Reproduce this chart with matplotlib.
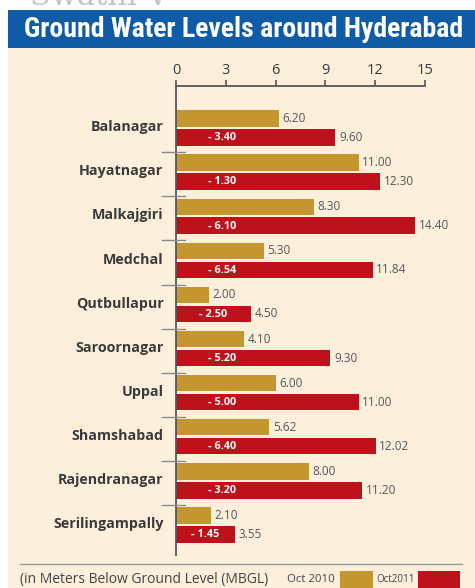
import matplotlib.pyplot as plt
import matplotlib.transforms as mtransforms
from matplotlib.patches import Rectangle
import numpy as np

# data (metres below ground level)
areas = ["Balanagar", "Hayatnagar", "Malkajgiri", "Medchal", "Qutbullapur",
         "Saroornagar", "Uppal", "Shamshabad", "Rajendranagar", "Serilingampally"]
oct2010 = [6.20, 11.00, 8.30, 5.30, 2.00, 4.10, 6.00, 5.62, 8.00, 2.10]
oct2011 = [9.60, 12.30, 14.40, 11.84, 4.50, 9.30, 11.00, 12.02, 11.20, 3.55]
change = [-3.40, -1.30, -6.10, -6.54, -2.50, -5.20, -5.00, -6.40, -3.20, -1.45]
xticks = [0, 3, 6, 9, 12, 15]

gold = '#C4962F'
red = '#BF111B'
cream = '#FCF0DD'
blue = '#0F5BA6'
txt = '#3a3a3a'
W, H = 475, 588

plt.rcParams['font.family'] = ['Open Sans', 'DejaVu Sans']

fig = plt.figure(figsize=(W / 100, H / 100), dpi=100, facecolor='white')


def fx(x):
    return x / W


def fy(y):
    return 1 - y / H


# background panels
fig.patches.append(Rectangle((fx(8), 0), 1 - fx(8), fy(48), transform=fig.transFigure,
                             facecolor=cream, edgecolor='none', zorder=-10))
fig.patches.append(Rectangle((fx(8), fy(48)), 1 - fx(8), (48 - 10) / H, transform=fig.transFigure,
                             facecolor=blue, edgecolor='none', zorder=-10))
fig.text(fx(30), fy(5), "Swathi V", color='#c4c4c4', fontsize=22, va='baseline', ha='left',
         family='DejaVu Serif')
fig.text(fx(244), fy(29.5), "Ground Water Levels around Hyderabad", color='white',
         fontsize=20, fontweight='bold', ha='center', va='center',
         family=['DejaVu Sans Condensed', 'Roboto Condensed', 'Roboto'], fontstretch='condensed')

# axes: x from 0 at px 176 to 15 at px 425, top line at px 86, bottom at px 555
ax = fig.add_axes([fx(176), fy(555), (425 - 176) / W, (555 - 86) / H])
ax.set_facecolor('none')
y = np.arange(len(areas))
bh = 0.37
ax.barh(y - 0.215, oct2010, height=bh, color=gold, zorder=2)
ax.barh(y + 0.215, oct2011, height=bh, color=red, zorder=2)

for i in range(len(areas)):
    ax.text(oct2010[i] + 0.22, y[i] - 0.215, f"{oct2010[i]:.2f}", color='#555555',
            fontsize=8.5, va='center', ha='left')
    ax.text(oct2011[i] + 0.22, y[i] + 0.215, f"{oct2011[i]:.2f}", color='#555555',
            fontsize=8.5, va='center', ha='left')
    ax.text(min(2.8, oct2011[i] / 2), y[i] + 0.225, f"- {abs(change[i]):.2f}", color='white',
            fontsize=7.8, fontweight='bold', va='center', ha='center')

ax.set_xlim(0, 15)
ax.set_ylim(9.68, -0.95)
ax.set_xticks(xticks)
ax.xaxis.tick_top()
ax.tick_params(axis='x', direction='out', length=4, width=1.2, color='#555555',
               labelsize=10.5, labelcolor=txt, pad=2)
ax.set_yticks(y - 0.05)
ax.set_yticklabels(areas, fontsize=10.3, fontweight='bold', color=txt)
ax.tick_params(axis='y', length=0, pad=9)
for s in ['right', 'bottom']:
    ax.spines[s].set_visible(False)
for s in ['left', 'top']:
    ax.spines[s].set_color('#555555')
    ax.spines[s].set_linewidth(1.3)

# small separators between groups
trans = mtransforms.blended_transform_factory(ax.transAxes, ax.transData)
for i in range(len(areas) - 1):
    ax.plot([-0.056, 0.036], [i + 0.55, i + 0.55], transform=trans, color='#8a8a8a',
            lw=1, clip_on=False, zorder=3)

# footer
fig.lines.append(plt.Line2D([fx(20), fx(462)], [fy(564), fy(564)], transform=fig.transFigure,
                            color='#9a9a9a', lw=1))
fig.text(fx(20), fy(580), "(in Meters Below Ground Level (MBGL)", fontsize=10, color='#444444',
         va='center', ha='left')
fig.text(fx(287), fy(580), "Oct 2010", fontsize=8.2, color='#444444', va='center', ha='left')
fig.patches.append(Rectangle((fx(340), 0), (373 - 340) / W, (588 - 571) / H,
                             transform=fig.transFigure, facecolor=gold, edgecolor='none'))
fig.text(fx(376), fy(580), "Oct2011", fontsize=7.1, color='#444444', va='center', ha='left')
fig.patches.append(Rectangle((fx(418), 0), (460 - 418) / W, (588 - 571) / H,
                             transform=fig.transFigure, facecolor=red, edgecolor='none'))

fig.savefig('out.png', dpi=100)
